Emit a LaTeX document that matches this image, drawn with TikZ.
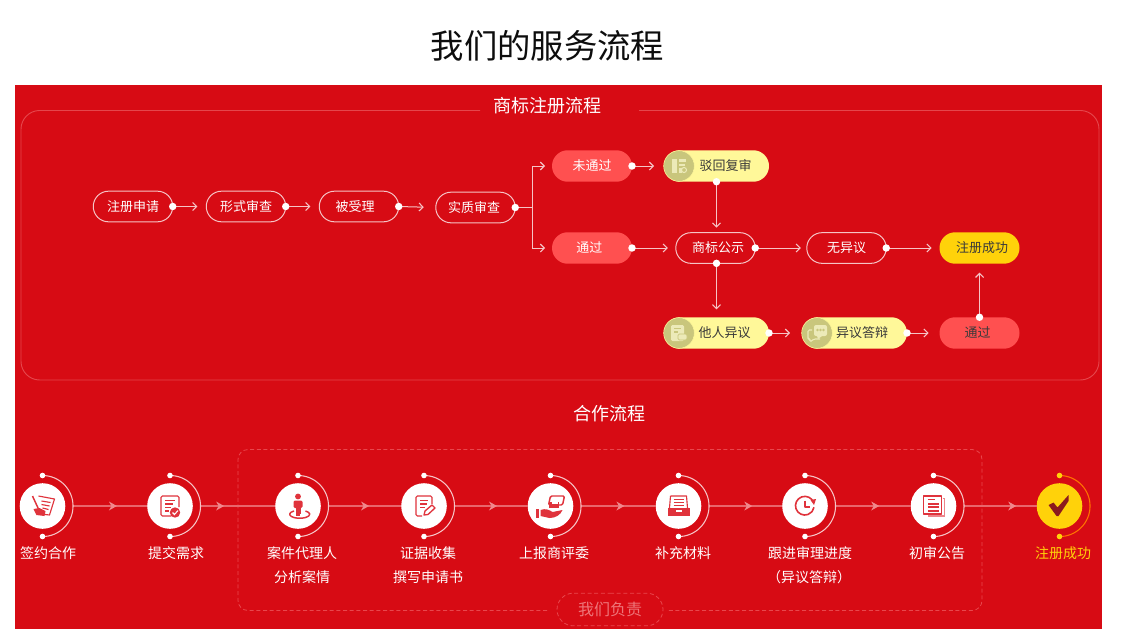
\documentclass[tikz,border=0pt]{standalone}
\usepackage{fontspec}
\setmainfont{Noto Sans CJK SC}
\usetikzlibrary{shapes.misc,arrows.meta,calc}
\definecolor{bgred}{HTML}{D70B14}
\definecolor{framered}{HTML}{E5464C}
\definecolor{coral}{HTML}{FF5050}
\definecolor{lemon}{HTML}{FFF899}
\definecolor{gold}{HTML}{FFD20A}
\definecolor{olive}{HTML}{C9C67C}
\definecolor{palepink}{HTML}{F6C4C6}
\definecolor{segpink}{HTML}{E9666C}
\definecolor{tippink}{HTML}{F0888C}
\definecolor{iconred}{HTML}{E0333C}
\definecolor{darkred}{HTML}{8C1A1E}
\definecolor{paleicon}{HTML}{ECEAB8}
\definecolor{darktext}{HTML}{3A3A3A}
\definecolor{dashred}{HTML}{E8474D}
\newcommand\pxfont[1]{\fontsize{#1}{#1}\selectfont}
\tikzset{
  pillbase/.style={rounded rectangle,minimum width=60pt,minimum height=23.6pt,inner sep=0pt,outer sep=0pt,font=\pxfont{9.75}},
  outlinepill/.style={pillbase,draw=palepink,line width=.75pt,text=white,minimum width=59.6pt,minimum height=23pt},
  coralpill/.style={pillbase,fill=coral,text=white},
  goldpill/.style={pillbase,fill=gold,text=darktext},
  lemonpill/.style={pillbase,fill=lemon,minimum width=78.75pt,text=darktext},
  badge/.style={circle,fill=olive,draw=lemon,line width=.4pt,minimum size=23pt,inner sep=0pt},
  flowdot/.style={circle,fill=white,minimum size=5.6pt,inner sep=0pt,outer sep=0pt},
  smalldot/.style={circle,fill=white,minimum size=4.2pt,inner sep=0pt},
  golddot/.style={circle,fill=gold,minimum size=4.2pt,inner sep=0pt},
  flow/.style={draw=palepink,line width=.75pt,-{Straight Barb[length=3pt,width=6pt,line width=.8pt]}},
  branch/.style={draw=palepink,line width=.75pt},
  stage/.style={circle,fill=white,minimum size=34.2pt,inner sep=0pt,outer sep=0pt},
  goldstage/.style={stage,fill=gold},
  seg/.style={draw=segpink,line width=1.1pt},
  ringarc/.style={draw=palepink,line width=.8pt},
  steplabel/.style={text=white,font=\pxfont{10.5},inner sep=0pt},
  heading/.style={text=white,font=\pxfont{13.5},inner sep=0pt},
  ic/.style={draw=iconred,line width=.85pt,line join=round},
  icf/.style={fill=iconred,draw=none},
  pic/.style={draw=paleicon,line width=.8pt},
  pif/.style={fill=paleicon,draw=none},
}
\newcommand\ring[2][palepink]{%
  \draw[ringarc,draw=#1] ($(#2)+(0,-30.5)$) arc (90:-90:22.9pt);}
\begin{document}
\begin{tikzpicture}[x=.75pt,y=-.75pt]
\useasboundingbox (0,0) rectangle (1124,642);
\fill[white] (0,0) rectangle (1124,642);
\fill[bgred] (15,85) rectangle (1102,629);
\node[text=black!95,font=\pxfont{25},inner sep=0pt] (maintitle) at (547.5,46) {我们的服务流程};

% ---------- frame of the upper panel
\draw[framered,line width=.7pt,rounded corners=14pt] (480,110.5) -- (21,110.5) -- (21,380) -- (1099,380) -- (1099,110.5) -- (639,110.5);
\node[heading] (title1) at (547,105.5) {商标注册流程};
\node[heading] (title2) at (609.5,413.5) {合作流程};

% ---------- upper nodes
\node[outlinepill] (a1) at (133,206.5) {注册申请};
\node[outlinepill] (a2) at (246,206.5) {形式审查};
\node[outlinepill] (a3) at (359,206.5) {\hspace*{-6pt}被受理};
\node[outlinepill] (a4) at (475.5,207.5) {\hspace*{-2pt}实质审查};
\node[coralpill] (b1) at (592,166) {未通过};
\node[coralpill] (b2) at (592,248) {\hspace*{-4pt}通过};
\node[lemonpill] (c1) at (716.5,166) {\hspace*{13.5pt}驳回复审};
\node[outlinepill] (c2) at (715.5,248) {\hspace*{4pt}商标公示};
\node[lemonpill] (c3) at (716.5,333) {\hspace*{12pt}他人异议};
\node[outlinepill] (d1) at (846.5,248) {无异议};
\node[lemonpill] (d2) at (854.5,333) {\hspace*{11.5pt}异议答辩};
\node[goldpill] (e1) at (979.5,248) {\hspace*{4pt}注册成功};
\node[coralpill,text=darktext] (e2) at (979.5,333) {\hspace*{-3pt}通过};

% ---------- badges with icons
\node[badge] (ib1) at (679,166) {};
\node[badge] (ib2) at (679,333) {};
\node[badge] (ib3) at (817,333) {};
\begin{scope}[shift={(ib1)}]
  \fill[pif] (-7,-7) rectangle (-2,7);
  \fill[pif] (0,-7) rectangle (7,-4.5);
  \fill[pif] (0,-2.5) rectangle (6,-.5);
  \fill[pif] (0,1.5) rectangle (2.5,7);
  \draw[pic] (5,4) circle (1.9pt);
\end{scope}
\begin{scope}[shift={(ib2)}]
  \fill[pif,rounded corners=1pt] (-8,-8) rectangle (5,8);
  \draw[olive,line width=.8pt] (-5,-4.5) -- (2,-4.5) (-5,-1) -- (-1,-1);
  \fill[pif,draw=olive,line width=.5pt,rounded corners=1pt] (-1,1) rectangle (8,7);
\end{scope}
\begin{scope}[shift={(ib3)}]
  \fill[pif,rounded corners=1.5pt] (-3,-8) rectangle (10,3);
  \fill[pif] (0,3) -- (5,3) -- (1,6) -- cycle;
  \fill[olive] (0.5,-3) circle (1pt) (3.5,-3) circle (1pt) (6.5,-3) circle (1pt);
  \draw[pic,rounded corners=1pt] (-5,-3) -- (-9,-3) -- (-9,6) -- (-7,6) -- (-7,9) -- (-3,6) -- (3,6);
\end{scope}

% ---------- upper connectors
\draw[flow,shorten >=6.75pt] (a1.east) -- (a2.west);
\draw[flow,shorten >=6.75pt] (a2.east) -- (a3.west);
\draw[flow,shorten >=9pt] (a3.east) -- (a4.west);
\coordinate (fork) at ($(a4.east)+(17,0)$);
\draw[branch] (a4.east) -- (fork);
\draw[flow,shorten >=5.25pt] (fork) |- (b1.west);
\draw[flow,shorten >=5.25pt] (fork) |- (b2.west);
\draw[flow,shorten >=7.5pt] (b1.east) -- (c1.west);
\draw[flow,shorten >=6pt] (b2.east) -- (c2.west);
\draw[flow,shorten >=3.75pt] (c1.south) -- (c2.north -| c1.south);
\draw[flow,shorten >=6pt] (c2.south -| c1.south) -- (c3.north);
\draw[flow,shorten >=4.5pt] (c2.east) -- (d1.west);
\draw[flow,shorten >=6pt] (d1.east) -- (e1.west);
\draw[flow,shorten >=9pt] (c3.east) -- (d2.west);
\draw[flow,shorten >=8.25pt] (d2.east) -- (e2.west);
\draw[flow,shorten >=6.75pt] (e2.north) -- (e1.south);
\foreach \p in {a1.east,a2.east,a3.east,a4.east,b1.east,b2.east,c2.east,d1.east,c3.east,d2.east,e2.north}
  \node[flowdot] at (\p) {};
\node[flowdot] at (c1.south) {};
\node[flowdot] at (c2.south -| c1.south) {};

% ---------- dashed group
\draw[dashred,line width=.6pt,densely dashed,rounded corners=7.5pt] (547,610.5) -- (238,610.5) -- (238,449.5) -- (982,449.5) -- (982,610.5) -- (667,610.5);
\node[rounded rectangle,draw=dashred,line width=.6pt,densely dashed,minimum width=79.5pt,minimum height=24.5pt,inner sep=0pt,text=dashred!75!white,font=\pxfont{12}] (ours) at (610,609.5) {我们负责};

% ---------- lower stages
\node[stage] (s1) at (42.5,506) {};
\node[stage] (s2) at (170,506) {};
\node[stage] (s3) at (298,506) {};
\node[stage] (s4) at (424,506) {};
\node[stage] (s5) at (550.5,506) {};
\node[stage] (s6) at (678.5,506) {};
\node[stage] (s7) at (805,506) {};
\node[stage] (s8) at (933.5,506) {};
\node[goldstage] (s9) at (1059.5,506) {};

\foreach \s/\t/\q in {s1/s2/.63,s2/s3/.38,s3/s4/.6,s4/s5/.62,s5/s6/.62,s6/s7/.63,s7/s8/.62,s8/s9/.745}{
  \draw[seg,shorten <=5.8pt] (\s.east) -- (\t.west);
  \coordinate (tip) at ($(\s.east)!\q!(\t.west)$);
  \fill[tippink] (tip) -- ++(-8,-4.5) -- ++(2.5,4.5) -- ++(-2.5,4.5) -- cycle;
}
\foreach \s in {s1,s2,s3,s4,s5,s6,s7,s8}{
  \ring{\s}
  \node[smalldot] at ($(\s)+(0,-30.5)$) {};
  \node[smalldot] at ($(\s)+(0,30.5)$) {};
}
\ring[orange!90!red]{s9}
\node[golddot] at ($(s9)+(0,-30.5)$) {};
\node[golddot] at ($(s9)+(0,30.5)$) {};

% ---------- lower icons
\begin{scope}[shift={(s1)}]
  \draw[ic] (-4,-10) -- (12,-7) -- (7,9) -- (-2,8);
  \draw[ic] (-1,-5) -- (8,-3.5) (-1,-1.5) -- (7,0) (0,2) -- (6,3.5);
  \draw[ic,line width=1.1pt] (-10,-10) -- (-4,3);
  \fill[icf] (-9,3) -- (-3,2) -- (3,5) -- (2,10) -- (-6,9) -- cycle;
\end{scope}
\begin{scope}[shift={(s2)}]
  \draw[ic,rounded corners=1pt] (1,10) -- (-9,10) -- (-9,-10) -- (9,-10) -- (9,1);
  \draw[ic] (-5,-5.5) -- (5,-5.5) (-5,-2) -- (3,-2) (-5,1.5) -- (1,1.5) (-5,5) -- (-1,5);
  \fill[icf] (5,6.5) circle (3.9pt);
  \draw[white,line width=.8pt] (2.5,6.5) -- (4.5,8.5) -- (8,4.5);
\end{scope}
\begin{scope}[shift={(s3)}]
  \fill[icf] (0,-9.5) circle (2.2pt);
  \fill[icf,rounded corners=1pt] (-4.5,-5.5) rectangle (4.5,2);
  \fill[icf] (-2.5,2) rectangle (2.5,8);
  \draw[ic,line width=1.1pt] (-4,5) arc (125:415:7.5pt and 3pt);
  \draw[ic] (-2,9) -- (2,9);
\end{scope}
\begin{scope}[shift={(s4)}]
  \draw[ic,rounded corners=1pt] (-2,10) -- (-8,10) -- (-8,-10) -- (8,-10) -- (8,-2);
  \draw[ic] (-4,-5.5) -- (4,-5.5) (-4,-2) -- (3,-2) (-4,1.5) -- (1,1.5);
  \draw[ic,line width=1pt] (0,9) -- (1,5) -- (8,-1) -- (11,2) -- (4,8.5) -- cycle;
\end{scope}
\begin{scope}[shift={(s5)}]
  \draw[ic,rounded corners=1pt,line width=1.1pt] (-2,-1) -- (0,-10) -- (14,-10) -- (12,-1) -- cycle;
  \fill[icf] (-2,-4) rectangle (8,2);
  \draw[white,line width=.8pt] (3,-6) -- (9,-6) (1,-3) -- (7,-3);
  \fill[icf] (-15,3) rectangle (-12,12);
  \fill[icf] (-10,4) .. controls (-5,2) and (-1,4) .. (2,6) -- (12,4) .. controls (10,9) and (5,12) .. (-1,12) -- (-10,10) -- cycle;
\end{scope}
\begin{scope}[shift={(s6)}]
  \draw[ic] (-8,-10) -- (8,-10) -- (9,2) (-8,-10) -- (-9,2);
  \draw[ic] (-5,-6.5) -- (5,-6.5) (-5,-3.5) -- (5,-3.5) (-5,-.5) -- (5,-.5);
  \fill[icf] (-11,2) -- (11,2) -- (11,10) -- (-11,10) -- cycle;
  \fill[white] (-3,3.5) rectangle (3,5.5);
\end{scope}
\begin{scope}[shift={(s7)}]
  \draw[ic,line width=1.2pt] (8.6,-3.5) arc (20:350:7pt);
  \draw[ic,line width=1pt] (0,-5.5) -- (0,1) -- (5,1);
  \fill[icf] (5.5,-6) -- (11,-7) -- (9,-1) -- cycle;
\end{scope}
\begin{scope}[shift={(s8)}]
  \draw[iconred!60!white,line width=1pt] (9,-7.5) -- (11,-7.5) -- (11,10) -- (-5,10) -- (-5,8);
  \draw[ic,fill=white,line width=1.1pt] (-10,-10) rectangle (8,8);
  \draw[ic] (-6,-6.5) -- (1,-6.5);
  \fill[icf] (-6,-3.5) rectangle (5,-1.5);
  \fill[icf] (-6,.2) rectangle (5,2.2);
  \fill[icf] (-6,3.8) rectangle (5,5.8);
\end{scope}
\begin{scope}[shift={(s9)}]
  \fill[darkred] (-11,-1) -- (-6,-3.5) -- (-2,1.5) -- (9,-11) -- (9,-5) -- (-1,10) -- (-3,10) -- cycle;
\end{scope}

% ---------- lower labels
\node[steplabel] (t1) at (48,553.5) {签约合作};
\node[steplabel] (t2) at (176,553.5) {提交需求};
\node[steplabel] (t3) at (302,553.5) {案件代理人};
\node[steplabel] (t3b) at (302,577.5) {分析案情};
\node[steplabel] (t4) at (428,553.5) {证据收集};
\node[steplabel] (t4b) at (428,577.5) {撰写申请书};
\node[steplabel] (t5) at (554,553.5) {上报商评委};
\node[steplabel] (t6) at (683,553.5) {补充材料};
\node[steplabel] (t7) at (810,553.5) {跟进审理进度};
\node[steplabel] (t7b) at (809,577.5) {（异议答辩）};
\node[steplabel] (t8) at (937,553.5) {初审公告};
\node[steplabel,text=gold] (t9) at (1063,553.5) {注册成功};
\end{tikzpicture}
\end{document}
